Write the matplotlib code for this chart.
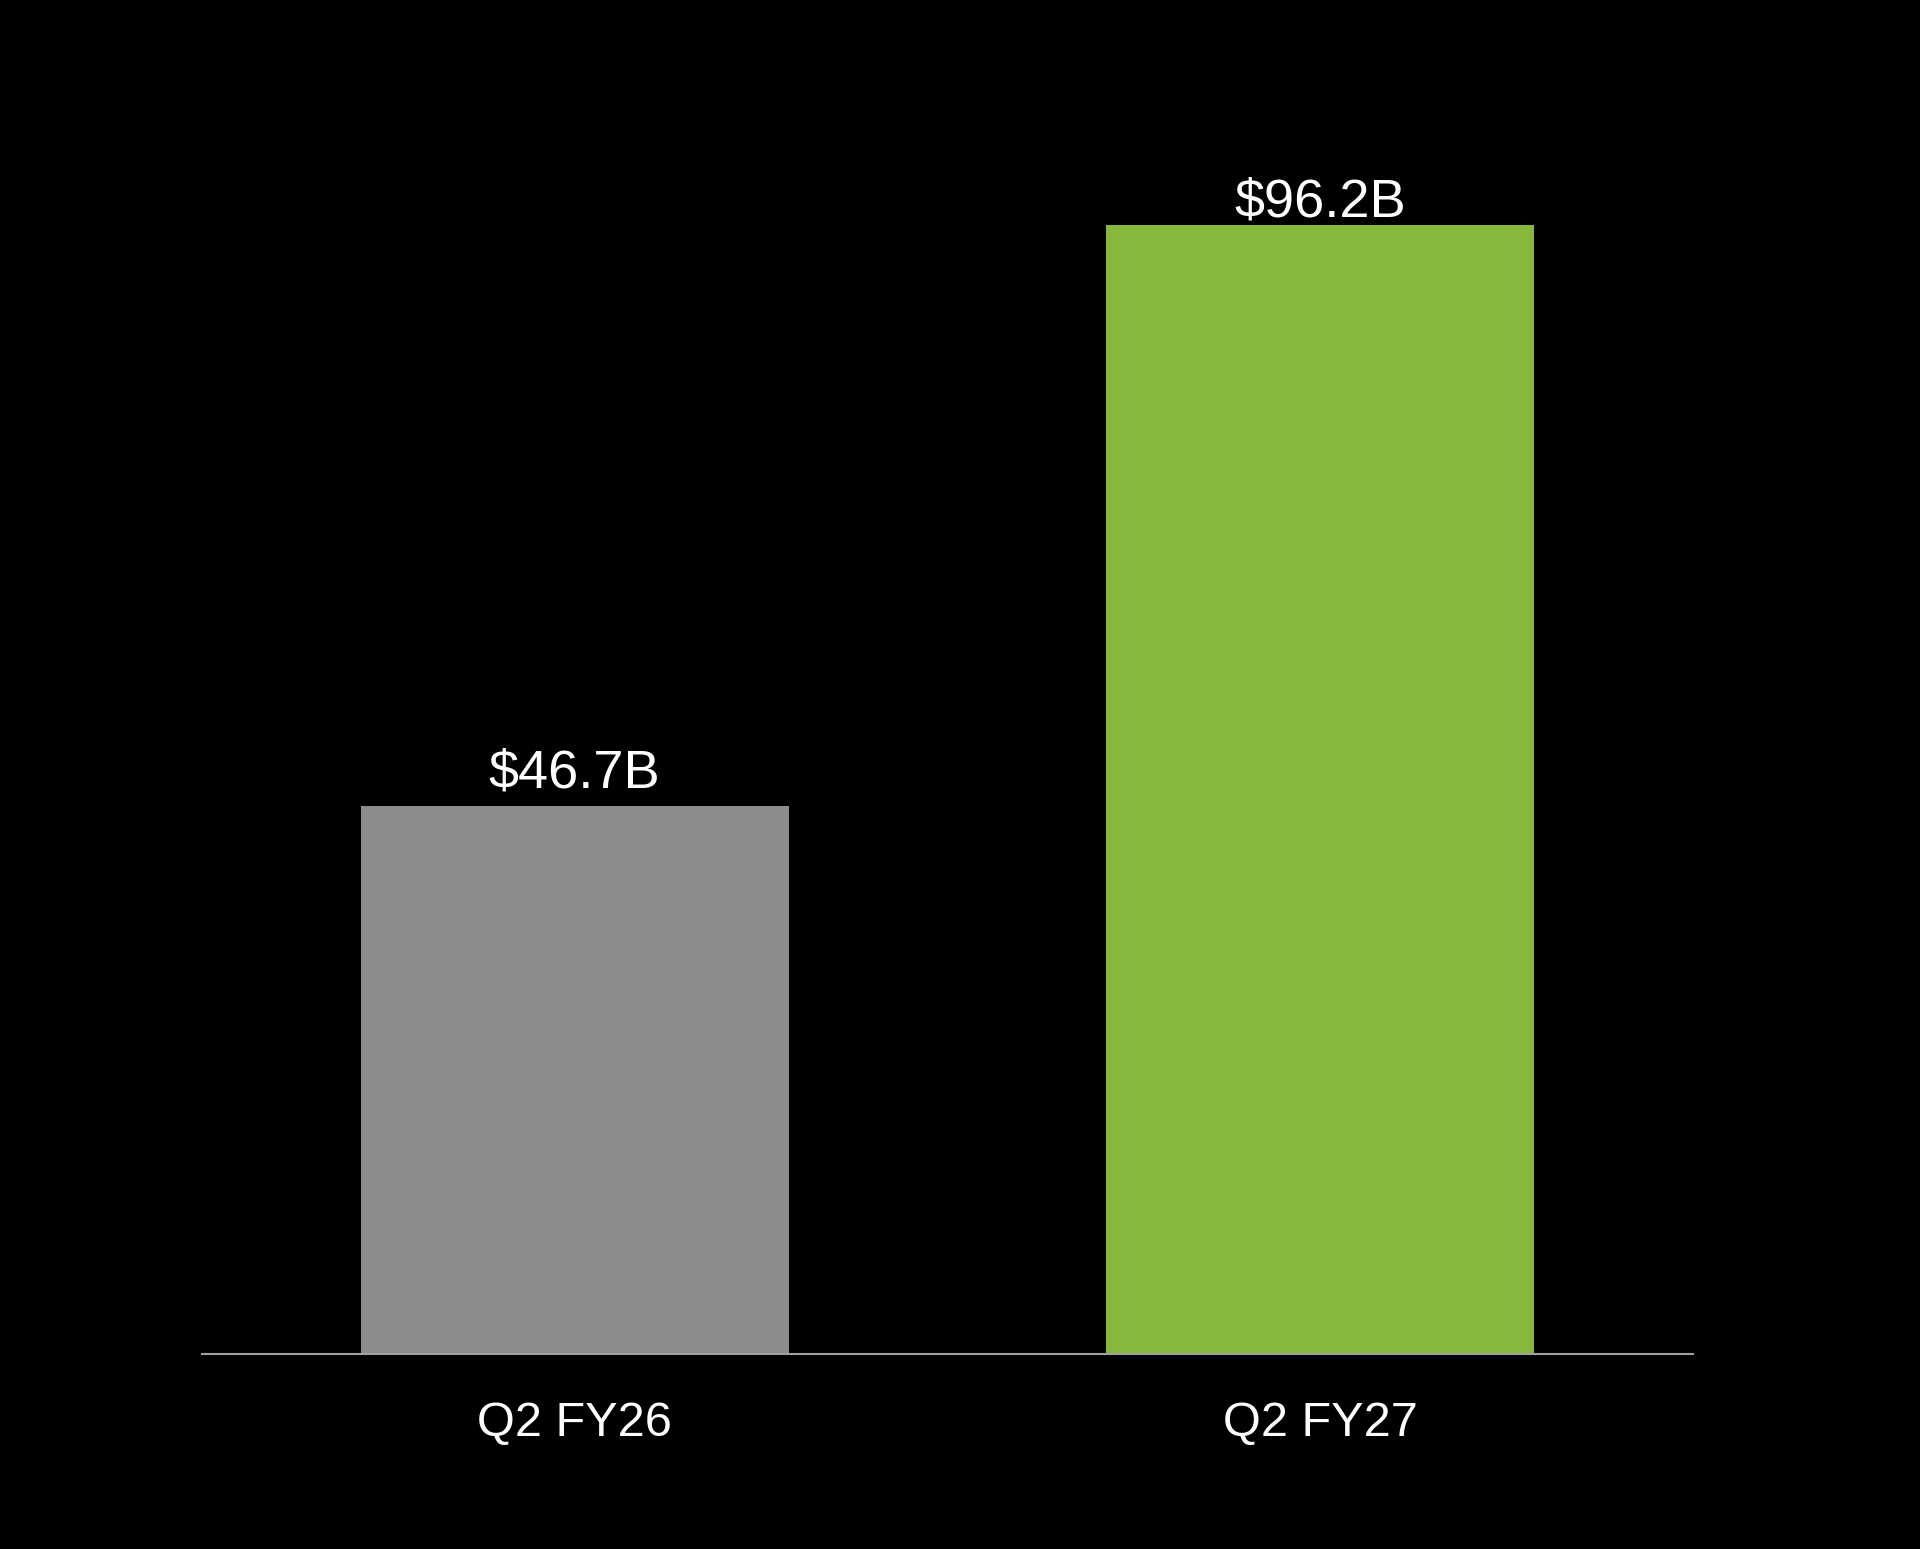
import matplotlib.pyplot as plt

# data
quarters = ['Q2 FY26', 'Q2 FY27']
revenue = [46.7, 96.2]
value_labels = ['$46.7B', '$96.2B']
bar_colors = ['#8c8c8c', '#86b83c']

plt.rcParams['font.family'] = ['Liberation Sans', 'DejaVu Sans']

fig = plt.figure(figsize=(19.2, 15.49), dpi=100, facecolor='black')
ax = fig.add_axes([0.1052, 0.1259, 0.7766, 0.9 - 0.1259])
ax.set_facecolor('black')

x = list(range(len(quarters)))
bars = ax.bar(x, revenue, width=0.574, color=bar_colors)

# value labels above each bar (the taller bar's label sits closer to it)
label_gap = [13.5, 6]
for rect, lab, gap in zip(bars, value_labels, label_gap):
    ax.annotate(lab, (rect.get_x() + rect.get_width() / 2, rect.get_height()),
                xytext=(0, gap), textcoords='offset points',
                ha='center', va='baseline', color='white', fontsize=39,
                annotation_clip=False)

ax.set_xlim(-0.5, 1.5)
ax.set_ylim(0, 102.17)
ax.set_xticks(x)
ax.set_xticklabels(quarters, color='white', fontsize=35)
ax.tick_params(axis='x', length=0, pad=34)
ax.set_yticks([])

for side in ['top', 'right', 'left']:
    ax.spines[side].set_visible(False)
ax.spines['bottom'].set_color('#a0a0a0')
ax.spines['bottom'].set_linewidth(1.5)

plt.savefig('out.png', dpi=100, facecolor='black')
